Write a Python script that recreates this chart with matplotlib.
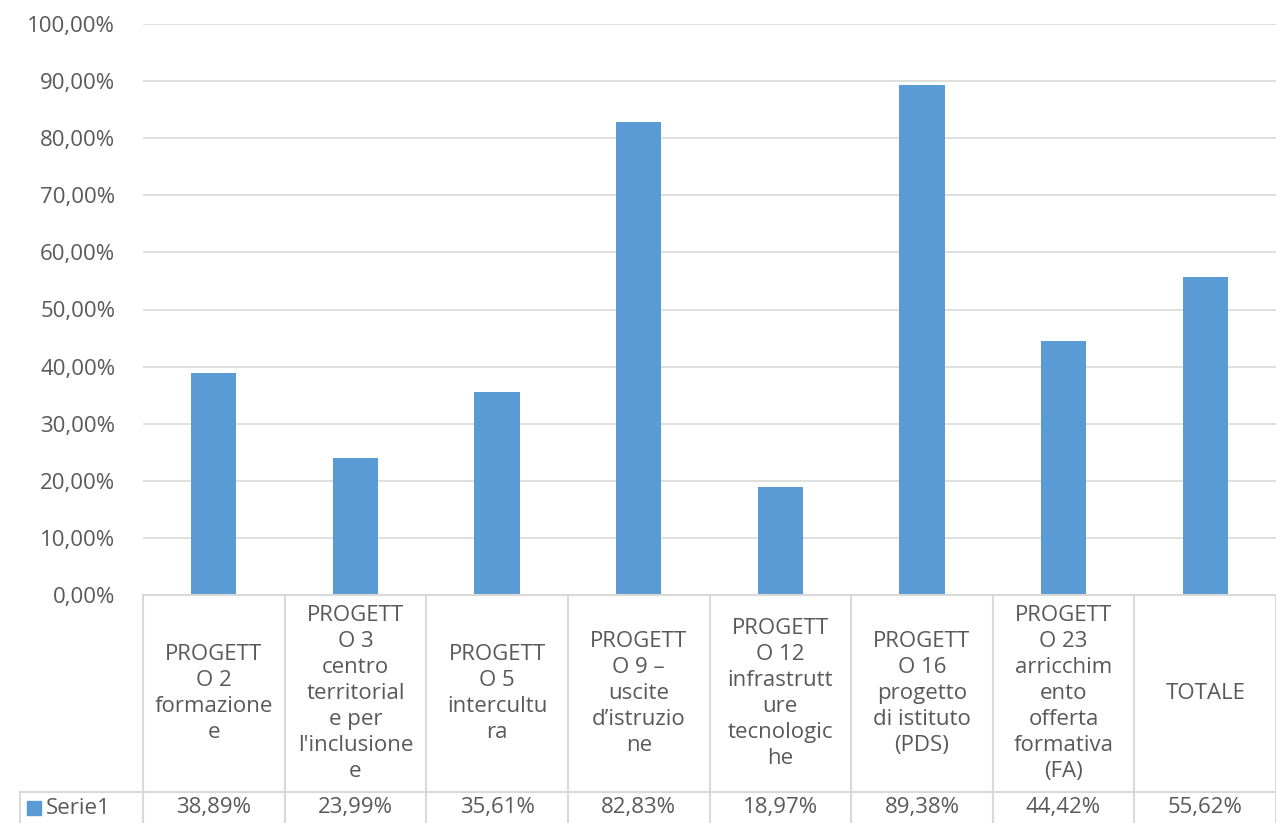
import matplotlib
matplotlib.use("Agg")
import matplotlib.pyplot as plt
from matplotlib.patches import Rectangle

plt.rcParams['font.family'] = ['Open Sans', 'DejaVu Sans']

# Data
categories = [
    "PROGETT\nO 2\nformazione\ne",
    "PROGETT\nO 3\ncentro\nterritorial\ne per\nl'inclusione\ne",
    "PROGETT\nO 5\nintercultu\nra",
    "PROGETT\nO 9 –\nuscite\nd’istruzio\nne",
    "PROGETT\nO 12\ninfrastrutt\nure\ntecnologic\nhe",
    "PROGETT\nO 16\nprogetto\ndi istituto\n(PDS)",
    "PROGETT\nO 23\narricchim\nento\nofferta\nformativa\n(FA)",
    "TOTALE",
]
values = [0.3889, 0.2399, 0.3561, 0.8283, 0.1897, 0.8938, 0.4442, 0.5562]
value_labels = ["38,89%", "23,99%", "35,61%", "82,83%", "18,97%", "89,38%", "44,42%", "55,62%"]
series_name = "Serie1"
yticks = [i / 10 for i in range(11)]
ytick_labels = [f"{i*10},00%" for i in range(11)]

W, H = 1276, 823
BAR_COLOR = "#5B9BD5"
TEXT_COLOR = "#595959"
GRID_COLOR = "#D9D9D9"
FS = 16

fig = plt.figure(figsize=(W / 100, H / 100), dpi=100)
left, right, top, bottom = 143, 1276, 24, 595
ax = fig.add_axes([left / W, 1 - bottom / H, (right - left) / W, (bottom - top) / H])

x = list(range(len(values)))
ax.bar(x, values, width=0.32, color=BAR_COLOR, zorder=3)
ax.set_xlim(-0.5, len(values) - 0.5)
ax.set_ylim(0, 1.0)
ax.set_yticks(yticks)
ax.set_yticklabels(ytick_labels, color=TEXT_COLOR, fontsize=FS)
ax.tick_params(axis='y', length=0, pad=20)
ax.set_xticks([])
ax.grid(axis='y', color=GRID_COLOR, linewidth=1.2, zorder=0)
for s in ax.spines.values():
    s.set_visible(False)

# Data table below the plot (figure pixel coords)
def fx(px):
    return px / W

def fy(py):
    return 1 - py / H

col_w = (right - left) / len(values)
header_bottom = 792
row_bottom = 840
line_kw = dict(color=GRID_COLOR, linewidth=1.5, transform=fig.transFigure, clip_on=False)

# horizontal lines
fig.add_artist(plt.Line2D([fx(left), fx(right)], [fy(bottom), fy(bottom)], **line_kw))
fig.add_artist(plt.Line2D([fx(20), fx(right)], [fy(header_bottom), fy(header_bottom)], **line_kw))
# vertical lines
for i in range(len(values) + 1):
    xp = left + i * col_w
    fig.add_artist(plt.Line2D([fx(xp), fx(xp)], [fy(bottom), fy(row_bottom)], **line_kw))
fig.add_artist(plt.Line2D([fx(20), fx(20)], [fy(header_bottom), fy(row_bottom)], **line_kw))

for i, (cat, lab) in enumerate(zip(categories, value_labels)):
    xc = left + (i + 0.5) * col_w
    fig.text(fx(xc), fy((bottom + header_bottom) / 2), cat, ha='center', va='center',
             multialignment='center', fontsize=FS, color=TEXT_COLOR, linespacing=1.31)
    fig.text(fx(xc), fy(808), lab, ha='center', va='center', fontsize=FS, color=TEXT_COLOR)

# legend key in data table
fig.add_artist(Rectangle((fx(27), fy(815)), 14 / W, 14 / H, color=BAR_COLOR, transform=fig.transFigure))
fig.text(fx(46), fy(808), series_name, ha='left', va='center', fontsize=FS, color=TEXT_COLOR)

fig.savefig("out.png", dpi=100)
